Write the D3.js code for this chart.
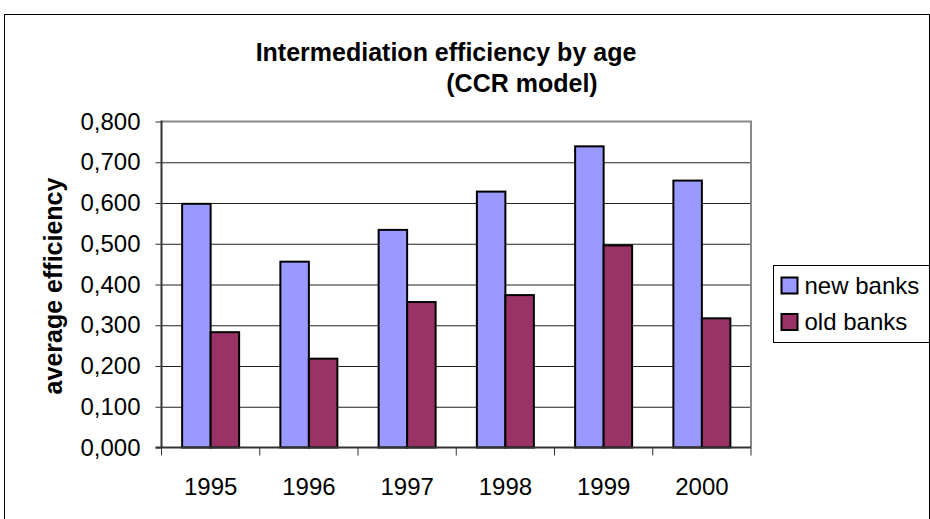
<!DOCTYPE html>
<html>
<head>
<meta charset="utf-8">
<script src="https://cdn.jsdelivr.net/npm/d3@7"></script>
<style>
  body { margin: 0; background: #fff; }
  svg { display: block; font-family: "Liberation Sans", Arial, sans-serif; }
  .domain { display: none; }
</style>
</head>
<body>
<svg id="chart" width="930" height="519"></svg>
<script>
// values
const years = [ "1995", "1996", "1997", "1998", "1999", "2000" ];
const newBanks = [ 0.598, 0.456, 0.534, 0.628, 0.739, 0.655 ];
const oldBanks = [ 0.283, 0.218, 0.357, 0.374, 0.496, 0.317 ];
const seriesNames = [ "new banks", "old banks" ];
const seriesColors = [ "#9999FF", "#993366" ];
const yTicks = [ 0, 0.1, 0.2, 0.3, 0.4, 0.5, 0.6, 0.7, 0.8 ];

const svg = d3.select( "#chart" );
const PLOT = { left: 161.5, right: 751, top: 121.5, bottom: 447.5 };

// outer chart frame
svg.append( "rect" )
  .attr( "x", 4.5 ).attr( "y", 14.5 )
  .attr( "width", 925 ).attr( "height", 520 )
  .attr( "fill", "#fff" ).attr( "stroke", "#000" ).attr( "stroke-width", 1 );

const x0 = d3.scaleBand()
  .domain( years )
  .range( [ PLOT.left, PLOT.right ] );
const barW = x0.bandwidth() * 0.29;
const x1 = d3.scaleBand()
  .domain( seriesNames )
  .range( [ 0, 2 * barW ] );
const offset = ( x0.bandwidth() - 2 * barW ) / 2;

const y = d3.scaleLinear()
  .domain( [ 0, 0.8 ] )
  .range( [ PLOT.bottom, PLOT.top ] );

// gridlines
svg.append( "g" )
  .attr( "transform", `translate(${PLOT.left},0)` )
  .call( d3.axisLeft( y ).tickValues( yTicks.slice( 1, -1 ) ).tickSize( -( PLOT.right - PLOT.left ) ).tickFormat( "" ) )
  .selectAll( "line" ).attr( "stroke", "#222" ).attr( "stroke-width", 1 );

// plot frame top / right
svg.append( "path" )
  .attr( "d", `M${PLOT.left},${PLOT.top}H${PLOT.right}V${PLOT.bottom}` )
  .attr( "fill", "none" ).attr( "stroke", "#888" ).attr( "stroke-width", 2 );

// bars
const seriesData = [ newBanks, oldBanks ];
seriesData.forEach( ( vals, s ) => {
  svg.append( "g" ).selectAll( "rect" )
    .data( vals )
    .enter()
    .append( "rect" )
    .attr( "x", ( d, i ) => x0( years[i] ) + offset + x1( seriesNames[s] ) )
    .attr( "y", d => y( d ) )
    .attr( "width", x1.bandwidth() )
    .attr( "height", d => y( 0 ) - y( d ) )
    .attr( "fill", seriesColors[s] )
    .attr( "stroke", "#000" )
    .attr( "stroke-width", 2 );
} );

// y axis
const yAxis = svg.append( "g" )
  .attr( "transform", `translate(${PLOT.left},0)` )
  .call( d3.axisLeft( y ).tickValues( yTicks ).tickSize( 6 ).tickPadding( 15 )
    .tickFormat( d => d.toFixed( 3 ).replace( ".", "," ) ) );
yAxis.selectAll( "line" ).attr( "stroke", "#333" );
yAxis.selectAll( "text" ).attr( "font-size", 24 ).attr( "fill", "#000" ).attr( "font-family", "Liberation Sans" );
svg.append( "line" )
  .attr( "x1", PLOT.left ).attr( "x2", PLOT.left )
  .attr( "y1", PLOT.top - 1 ).attr( "y2", PLOT.bottom )
  .attr( "stroke", "#333" ).attr( "stroke-width", 2 );

// x axis: labels in band centers, ticks on band edges
const xAxis = svg.append( "g" )
  .attr( "transform", `translate(0,${PLOT.bottom})` )
  .call( d3.axisBottom( x0 ).tickSize( 0 ).tickPadding( 30 ) );
xAxis.selectAll( "text" ).attr( "font-size", 24 ).attr( "fill", "#000" ).attr( "font-family", "Liberation Sans" );
svg.append( "g" ).selectAll( "line" )
  .data( years.concat( [ null ] ) )
  .enter()
  .append( "line" )
  .attr( "x1", d => d ? x0( d ) : PLOT.right )
  .attr( "x2", d => d ? x0( d ) : PLOT.right )
  .attr( "y1", PLOT.bottom ).attr( "y2", PLOT.bottom + 8 )
  .attr( "stroke", "#333" ).attr( "stroke-width", 1 );
svg.append( "line" )
  .attr( "x1", PLOT.left - 6 ).attr( "x2", PLOT.right )
  .attr( "y1", PLOT.bottom ).attr( "y2", PLOT.bottom )
  .attr( "stroke", "#333" ).attr( "stroke-width", 2 );

// titles
svg.append( "text" )
  .attr( "x", 446 ).attr( "y", 61 )
  .attr( "text-anchor", "middle" )
  .attr( "font-size", 25 ).attr( "font-weight", "bold" )
  .text( "Intermediation efficiency by age" );
svg.append( "text" )
  .attr( "x", 522 ).attr( "y", 92 )
  .attr( "text-anchor", "middle" )
  .attr( "font-size", 25 ).attr( "font-weight", "bold" )
  .text( "(CCR model)" );
svg.append( "text" )
  .attr( "transform", "translate(62,286) rotate(-90)" )
  .attr( "text-anchor", "middle" )
  .attr( "font-size", 25 ).attr( "font-weight", "bold" )
  .text( "average efficiency" );

// legend
const legend = svg.append( "g" ).attr( "transform", "translate(773.5,265.5)" );
legend.append( "rect" )
  .attr( "width", 156 ).attr( "height", 77 )
  .attr( "fill", "#fff" ).attr( "stroke", "#000" ).attr( "stroke-width", 1 );
seriesNames.forEach( ( name, i ) => {
  const row = legend.append( "g" ).attr( "transform", `translate(8,${12 + i * 36.5})` );
  row.append( "rect" )
    .attr( "width", 16 ).attr( "height", 16 )
    .attr( "fill", seriesColors[i] )
    .attr( "stroke", "#000" ).attr( "stroke-width", 2 );
  row.append( "text" )
    .attr( "x", 23 ).attr( "y", 8 ).attr( "dy", "0.35em" )
    .attr( "font-size", 24 )
    .text( name );
} );
</script>
</body>
</html>
